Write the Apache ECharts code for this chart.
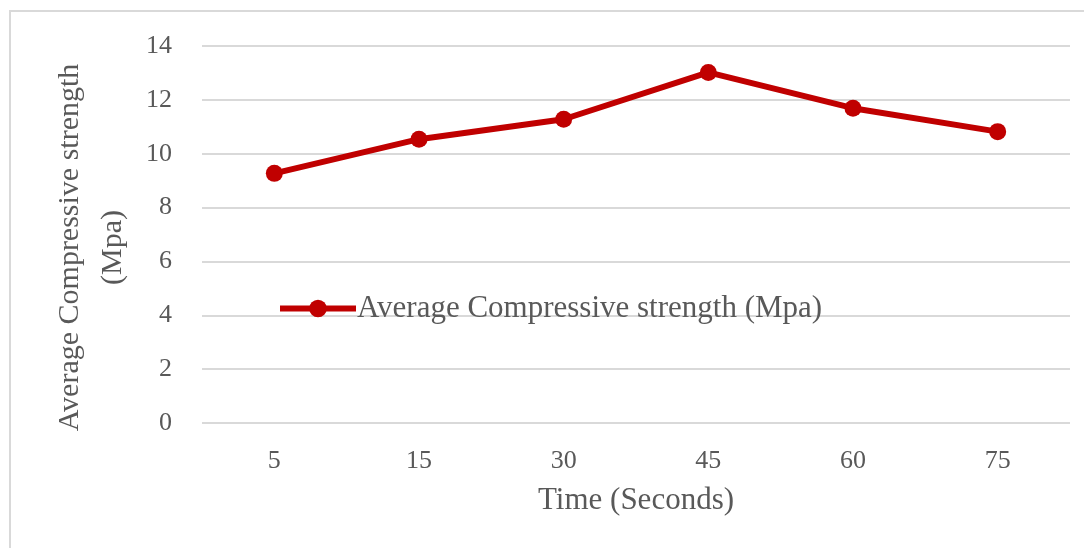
<!DOCTYPE html>
<html>
<head>
<meta charset="utf-8">
<script src="https://cdn.jsdelivr.net/npm/echarts@6/dist/echarts.min.js"></script>
<style>
  html, body { margin: 0; padding: 0; background: #ffffff; }
  #chart { width: 1084px; height: 548px; }
</style>
</head>
<body>
<div id="chart"></div>
<script>
// Curing time (seconds) on the category axis
const timeCategories = ['5', '15', '30', '45', '60', '75'];
// Average compressive strength (MPa) at each curing time
const strengthValues = [9.27, 10.54, 11.28, 13.02, 11.69, 10.82];
const seriesName = 'Average Compressive strength (Mpa)';
const xTitle = 'Time (Seconds)';
const yTitle = 'Average Compressive strength\n(Mpa)';

const textColor = '#595959';
const gridColor = '#d9d9d9';
const lineColor = '#c00000';
const serif = '"Liberation Serif", "Times New Roman", serif';

const chart = echarts.init(document.getElementById('chart'), null, { renderer: 'canvas' });

chart.setOption({
  backgroundColor: '#ffffff',
  animation: false,
  textStyle: { fontFamily: serif, color: textColor },
  graphic: [{
    type: 'polyline',
    shape: { points: [[10, 548], [10, 11], [1084, 11]] },
    style: { stroke: gridColor, lineWidth: 2, fill: null }
  }],
  grid: { left: 202, right: 14, top: 46, bottom: 125 },
  legend: {
    left: 272, top: 288,
    itemWidth: 76, itemHeight: 22, itemGap: 6,
    lineStyle: { width: 6 },
    textStyle: { fontFamily: serif, fontSize: 31, color: textColor, padding: [0, 0, 0, -4] },
    data: [seriesName]
  },
  xAxis: {
    type: 'category',
    data: timeCategories,
    boundaryGap: true,
    name: xTitle,
    nameLocation: 'middle',
    nameGap: 62,
    nameTextStyle: { fontFamily: serif, fontSize: 31, color: textColor },
    axisLine: { show: false },
    axisTick: { show: false },
    axisLabel: { fontFamily: serif, fontSize: 26, color: textColor, margin: 25 }
  },
  yAxis: {
    type: 'value',
    min: 0, max: 14, interval: 2,
    name: yTitle,
    nameLocation: 'middle',
    nameRotate: 90,
    nameGap: 63,
    nameTextStyle: { fontFamily: serif, fontSize: 30, lineHeight: 43, color: textColor, padding: [0, 0, 0, -26] },
    axisLine: { show: false },
    axisTick: { show: false },
    axisLabel: { fontFamily: serif, fontSize: 26, color: textColor, margin: 30 },
    splitLine: { lineStyle: { color: gridColor, width: 2 } }
  },
  series: [{
    name: seriesName,
    type: 'line',
    data: strengthValues,
    symbol: 'circle',
    symbolSize: 17,
    itemStyle: { color: lineColor },
    lineStyle: { color: lineColor, width: 6 }
  }]
});
</script>
</body>
</html>
